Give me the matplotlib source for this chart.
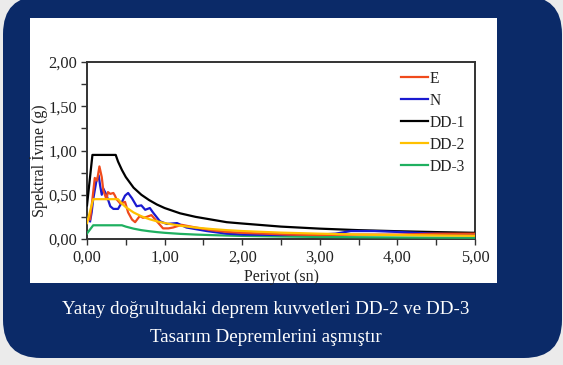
import matplotlib
matplotlib.use("Agg")
import matplotlib.pyplot as plt
from matplotlib.patches import FancyBboxPatch, Rectangle
from matplotlib.ticker import MultipleLocator, FuncFormatter

plt.rcParams['font.family'] = ['Liberation Serif', 'DejaVu Serif']

# Recorded spectra (E and N components)
e_period = [0.00, 0.04, 0.07, 0.10, 0.13, 0.16, 0.19, 0.21, 0.25, 0.27, 0.30, 0.34, 0.36,
            0.38, 0.43, 0.49, 0.53, 0.58, 0.62, 0.68, 0.72, 0.77, 0.83, 0.90, 0.98,
            1.05, 1.11, 1.22, 1.28, 1.40, 1.60, 1.80, 2.00, 2.30, 2.60, 3.00, 3.50,
            4.00, 4.50, 5.00]
e_accel = [0.22, 0.22, 0.45, 0.69, 0.66, 0.82, 0.70, 0.55, 0.45, 0.53, 0.51, 0.52, 0.49,
           0.45, 0.40, 0.42, 0.30, 0.22, 0.19, 0.26, 0.24, 0.25, 0.27, 0.20, 0.12,
           0.12, 0.13, 0.16, 0.15, 0.13, 0.10, 0.08, 0.07, 0.06, 0.05, 0.045, 0.05,
           0.05, 0.06, 0.06]

n_period = [0.04, 0.06, 0.08, 0.12, 0.15, 0.17, 0.19, 0.21, 0.25, 0.30, 0.34, 0.40,
            0.44, 0.49, 0.53, 0.58, 0.64, 0.70, 0.75, 0.81, 0.85, 0.94, 1.03, 1.16,
            1.28, 1.54, 1.80, 2.02, 2.50, 3.00, 3.20, 3.40, 3.70, 4.00, 4.50, 5.00]
n_accel = [0.20, 0.30, 0.45, 0.65, 0.72, 0.60, 0.50, 0.57, 0.50, 0.37, 0.34, 0.34,
           0.40, 0.49, 0.52, 0.46, 0.37, 0.38, 0.33, 0.35, 0.30, 0.20, 0.17, 0.18,
           0.13, 0.09, 0.06, 0.05, 0.045, 0.05, 0.06, 0.09, 0.09, 0.08, 0.06, 0.05]

# Design spectra for the three earthquake levels
dd1_period = [0.00, 0.07, 0.37, 0.40, 0.45, 0.50, 0.60, 0.70, 0.80, 0.90, 1.00, 1.20,
              1.40, 1.60, 1.80, 2.00, 2.50, 3.00, 3.50, 4.00, 4.50, 5.00]
dd1_accel = [0.38, 0.95, 0.95, 0.875, 0.78, 0.70, 0.58, 0.50, 0.44, 0.39, 0.35, 0.29,
             0.25, 0.22, 0.19, 0.175, 0.14, 0.117, 0.10, 0.088, 0.078, 0.07]

dd2_period = [0.00, 0.08, 0.40, 0.45, 0.50, 0.60, 0.70, 0.80, 0.90, 1.00, 1.20, 1.40,
              1.60, 1.80, 2.00, 2.50, 3.00, 3.50, 4.00, 4.50, 5.00]
dd2_accel = [0.18, 0.45, 0.45, 0.40, 0.36, 0.30, 0.257, 0.225, 0.20, 0.18, 0.15, 0.129,
             0.113, 0.10, 0.09, 0.072, 0.06, 0.051, 0.045, 0.04, 0.036]

dd3_period = [0.00, 0.08, 0.45, 0.50, 0.60, 0.70, 0.80, 0.90, 1.00, 1.20, 1.40, 1.60,
              1.80, 2.00, 2.50, 3.00, 3.50, 4.00, 4.50, 5.00]
dd3_accel = [0.062, 0.155, 0.155, 0.14, 0.117, 0.10, 0.088, 0.078, 0.07, 0.058, 0.05,
             0.044, 0.039, 0.035, 0.028, 0.023, 0.02, 0.0175, 0.0155, 0.014]

series_labels = ["E", "N", "DD-1", "DD-2", "DD-3"]
series_colors = ["#f04a1c", "#1a1ad0", "#000000", "#ffc000", "#1fb060"]

caption_lines = ["Yatay doğrultudaki deprem kuvvetleri DD-2 ve DD-3",
                 "Tasarım Depremlerini aşmıştır"]

W, H = 563, 365
fig = plt.figure(figsize=(W / 100, H / 100), dpi=100)
fig.patch.set_facecolor("#ebebeb")

# Navy rounded card
card = FancyBboxPatch((3 + 38, 7 + 38), 559 - 76, 362 - 76,
                      boxstyle="round,pad=38", transform=None,
                      facecolor="#0b2a68", edgecolor="none", zorder=0)
fig.patches.append(card)

# White chart panel
panel = Rectangle((30 / W, (H - 283) / H), 467 / W, 265 / H,
                  transform=fig.transFigure, facecolor="white",
                  edgecolor="none", zorder=1)
fig.patches.append(panel)

ax = fig.add_axes([87 / W, (H - 239) / H, 388 / W, 177 / H])
ax.set_zorder(2)
ax.set_facecolor("white")

data = [(e_period, e_accel), (n_period, n_accel), (dd1_period, dd1_accel),
        (dd2_period, dd2_accel), (dd3_period, dd3_accel)]
order = [2, 4, 1, 0, 3]
for i in order:
    x, y = data[i]
    ax.plot(x, y, color=series_colors[i], lw=1.6, label=series_labels[i],
            zorder=3 + (i == 3))

ax.set_xlim(0, 5)
ax.set_ylim(0, 2)
ax.xaxis.set_major_locator(MultipleLocator(1))
ax.xaxis.set_minor_locator(MultipleLocator(0.5))
ax.yaxis.set_major_locator(MultipleLocator(0.5))
ax.yaxis.set_minor_locator(MultipleLocator(0.25))
fmt = FuncFormatter(lambda v, p: f"{v:.2f}".replace(".", ","))
ax.xaxis.set_major_formatter(fmt)
ax.yaxis.set_major_formatter(fmt)
ax.tick_params(which="both", direction="out", color="#333333", width=1.0,
               labelsize=11.8, labelcolor="#222222")
ax.tick_params(which="major", length=4)
ax.tick_params(which="minor", length=4)
ax.tick_params(axis="x", pad=4)
ax.tick_params(axis="y", pad=3)
for s in ax.spines.values():
    s.set_color("#333333")
    s.set_linewidth(1.4)

ax.set_xlabel("Periyot (sn)", fontsize=11.5, color="#222222", labelpad=2)
fig.text(39 / W, 1 - 161 / H, "Spektral İvme (g)", rotation=90, fontsize=11.5,
         color="#222222", ha="center", va="center", zorder=5)

handles, labels = ax.get_legend_handles_labels()
idx = [labels.index(l) for l in series_labels]
leg = ax.legend([handles[k] for k in idx], [labels[k] for k in idx],
                loc="upper left", bbox_to_anchor=(308 / 388, 0.985), frameon=False,
                fontsize=11.2, handlelength=1.75, handletextpad=0.05,
                labelspacing=0.38, borderaxespad=0)
for t in leg.get_texts():
    t.set_color("#222222")

fig.text(266 / W, 1 - 310 / H, caption_lines[0], color="white", fontsize=13.7,
         ha="center", va="center")
fig.text(266 / W, 1 - 337 / H, caption_lines[1], color="white", fontsize=13.7,
         ha="center", va="center")

fig.savefig("out.png", dpi=100, facecolor=fig.get_facecolor())
